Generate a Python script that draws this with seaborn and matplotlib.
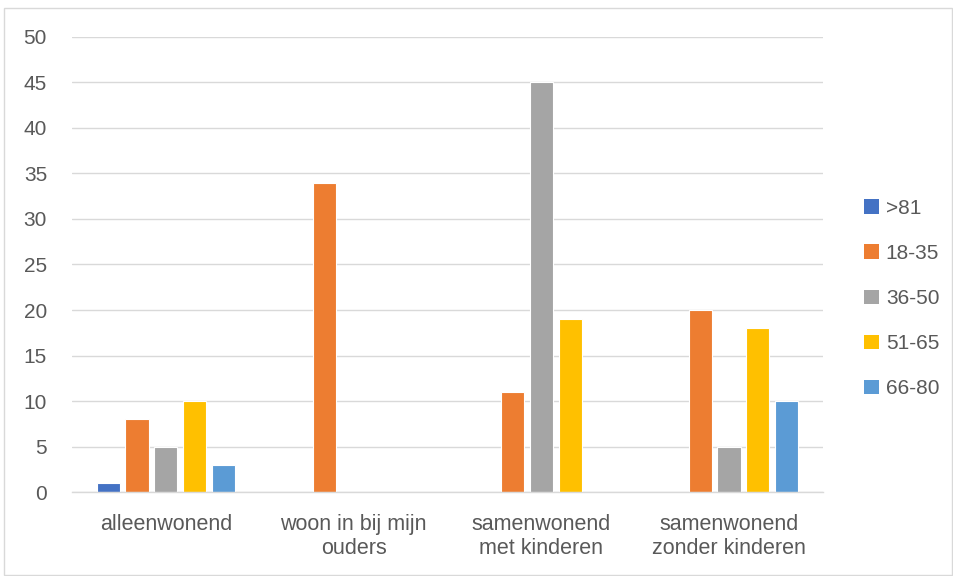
import matplotlib
matplotlib.use("Agg")
import matplotlib.pyplot as plt
import seaborn as sns
import pandas as pd
from matplotlib.patches import Rectangle, Patch

categories = ["alleenwonend", "woon in bij mijn\nouders", "samenwonend\nmet kinderen", "samenwonend\nzonder kinderen"]
groups = [">81", "18-35", "36-50", "51-65", "66-80"]
v_81 = [1, 0, 0, 0]
v_18_35 = [8, 34, 11, 20]
v_36_50 = [5, 0, 45, 5]
v_51_65 = [10, 0, 19, 18]
v_66_80 = [3, 0, 0, 10]
colors = ["#4472C4", "#ED7D31", "#A5A5A5", "#FFC000", "#5B9BD5"]

series = [v_81, v_18_35, v_36_50, v_51_65, v_66_80]
rows = []
for g, vals in zip(groups, series):
    for c, v in zip(categories, vals):
        rows.append({"cat": c, "group": g, "value": v})
df = pd.DataFrame(rows)

sns.set_theme(style="white")
plt.rcParams['font.family'] = ['Liberation Sans', 'DejaVu Sans']
txt = "#595959"

fig = plt.figure(figsize=(9.54, 5.76), dpi=100)
ax = fig.add_axes([0.0755, 0.1458, 0.787, 0.79])
sns.barplot(data=df, x="cat", y="value", hue="group", hue_order=groups,
            order=categories, palette=colors, saturation=1, width=0.77, gap=0.2,
            edgecolor="white", linewidth=0.8, ax=ax, legend=False)

ax.set_ylim(0, 50)
ax.set_yticks(range(0, 51, 5))
ax.set_xlim(-0.5, 3.5)
ax.yaxis.grid(True, color="#D9D9D9", linewidth=1)
ax.set_axisbelow(True)
for s in ["top", "right", "left"]:
    ax.spines[s].set_visible(False)
ax.spines["bottom"].set_color("#D9D9D9")
ax.spines["bottom"].set_linewidth(1)
ax.tick_params(axis="both", length=0, colors=txt)
ax.tick_params(axis="y", labelsize=15, pad=18)
ax.tick_params(axis="x", labelsize=15.5, pad=16)
for lbl in ax.get_xticklabels():
    lbl.set_linespacing(1.2)
ax.set_xlabel("")
ax.set_ylabel("")

handles = [Patch(facecolor=c, edgecolor="none", label=g) for c, g in zip(colors, groups)]
leg = fig.legend(handles=handles, loc="upper left", bbox_to_anchor=(0.886, 0.687),
                 frameon=False, fontsize=15, handlelength=0.7, handleheight=0.7,
                 handletextpad=0.35, labelspacing=1.25, labelcolor=txt)

fig.patches.append(Rectangle((0.004, 0.002), 0.994, 0.984, transform=fig.transFigure,
                             fill=False, edgecolor="#D9D9D9", linewidth=1))
fig.savefig("out.png", dpi=100)
